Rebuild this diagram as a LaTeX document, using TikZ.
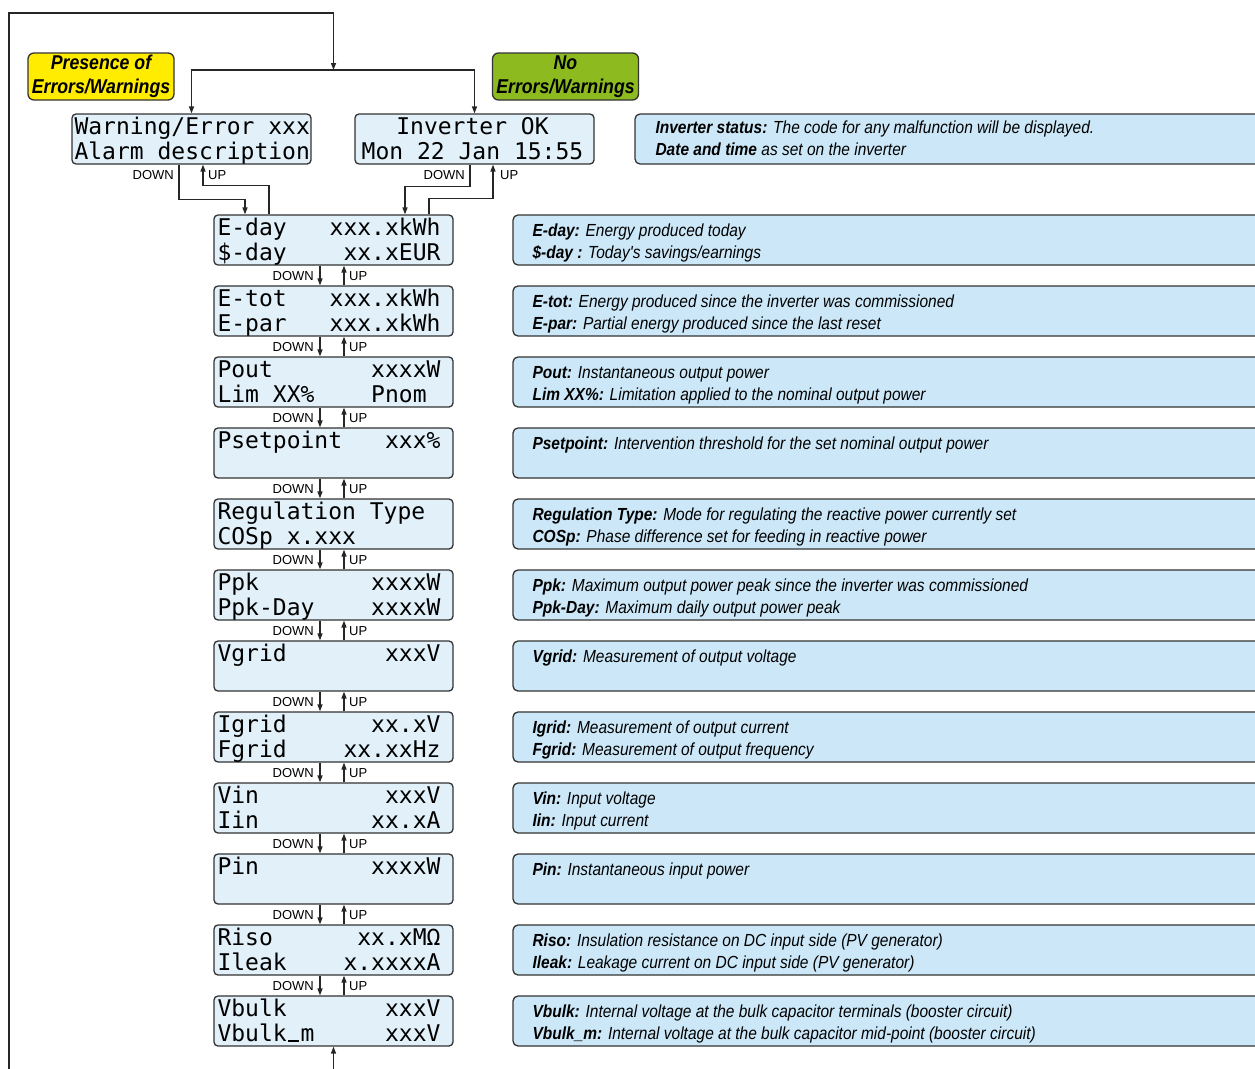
\documentclass[tikz,border=0pt]{standalone}
\usepackage{fontspec}
\setmainfont{Liberation Sans}
\newfontfamily\lcdfont{DejaVu Sans Mono}
\newfontfamily\descfont[FakeStretch=0.885]{Liberation Sans}
\usetikzlibrary{arrows.meta}
\definecolor{lcdfill}{HTML}{E1F0F9}
\definecolor{descfill}{HTML}{CCE8F8}
\definecolor{yel}{HTML}{FFEC00}
\definecolor{grn}{HTML}{8DBB1F}
\definecolor{edge}{HTML}{333333}
\tikzset{
  lcd/.style={draw=edge, line width=1.3pt, fill=lcdfill, rounded corners=4pt, minimum width=239pt, minimum height=50pt, inner sep=0pt},
  desc/.style={draw=edge, line width=1.3pt, fill=descfill, rounded corners=5pt, minimum height=50pt, inner sep=0pt},
  lcdtxt/.style={inner sep=0pt, font=\lcdfont\fontsize{23}{23}\selectfont},
  desctxt/.style={inner sep=0pt, anchor=base west, font=\descfont\fontsize{17.5}{17.5}\selectfont\itshape},
  tag/.style={draw=edge, line width=1.3pt, rounded corners=6pt, minimum width=146pt, minimum height=47pt, inner sep=0pt, align=center, font=\descfont\fontsize{20}{24}\selectfont\bfseries\itshape},
  conn/.style={line width=1.4pt, draw=black!85, -{Triangle[length=7pt,width=5pt]}},
  plain/.style={line width=1.4pt, draw=black!85},
  navtxt/.style={inner sep=0pt, font=\fontsize{13}{13}\selectfont}
}
\newcommand\LcdUnder{\makebox[13.85pt]{\rule{11pt}{2pt}}}
\newcommand\LcdRow[8]{%
  \node[lcd] (r#1) at (333.5,#2+25) {};
  \node[lcdtxt,anchor=base west] (r#1a) at ([xshift=4pt,yshift=-21.5pt]r#1.north west) {#3};
  \node[lcdtxt,anchor=base east] (r#1b) at ([xshift=-13pt,yshift=-21.5pt]r#1.north east) {#4};
  \node[lcdtxt,anchor=base west] (r#1c) at ([xshift=4pt,yshift=-46.5pt]r#1.north west) {#5};
  \node[lcdtxt,anchor=base east] (r#1d) at ([xshift=-13pt,yshift=-46.5pt]r#1.north east) {#6};
  \node[desc,minimum width=762pt] (d#1) at (894,#2+25) {};
  \node[desctxt] (d#1a) at ([xshift=20pt,yshift=-22pt]d#1.north west) {#7};
  \node[desctxt] (d#1b) at ([xshift=20pt,yshift=-44pt]d#1.north west) {#8};
}
\begin{document}
\begin{tikzpicture}[x=1pt,y=-1pt]
\useasboundingbox (0,0) rectangle (1255,1068);
\fill[white] (0,0) rectangle (1255,1068);
\clip (0,0) rectangle (1255,1068);

% tags
\node[tag,fill=yel] (tagE) at (101,76.5) {Presence of\\Errors/Warnings};
\node[tag,fill=grn] (tagN) at (565.5,76.5) {No\\Errors/Warnings};

% status boxes
\node[lcd] (warn) at (191.5,139) {};
\node[lcdtxt,anchor=base west] (warna) at ([xshift=3pt,yshift=-21.5pt]warn.north west) {Warning/Error xxx};
\node[lcdtxt,anchor=base west] (warnb) at ([xshift=3pt,yshift=-46.5pt]warn.north west) {Alarm description};
\node[lcd] (ok) at (474.5,139) {};
\node[lcdtxt,anchor=base] (oka) at ([xshift=-2pt,yshift=-21.5pt]ok.north) {Inverter OK};
\node[lcdtxt,anchor=base] (okb) at ([xshift=-2pt,yshift=-46.5pt]ok.north) {Mon 22 Jan 15:55};
\node[desc,minimum width=640pt] (d0) at (955,139) {};
\node[desctxt] (d0a) at ([xshift=21pt,yshift=-20pt]d0.north west) {\textbf{Inverter status:} The code for any malfunction will be displayed.};
\node[desctxt] (d0b) at ([xshift=21pt,yshift=-42pt]d0.north west) {\textbf{Date and time} as set on the inverter};

% rows
\LcdRow{1}{215}{E-day}{xxx.xkWh}{\$-day}{xx.xEUR}{\textbf{E-day:} Energy produced today}{\textbf{\$-day :} Today's savings/earnings}
\LcdRow{2}{286}{E-tot}{xxx.xkWh}{E-par}{xxx.xkWh}{\textbf{E-tot:} Energy produced since the inverter was commissioned}{\textbf{E-par:} Partial energy produced since the last reset}
\LcdRow{3}{357}{Pout}{xxxxW}{Lim XX\%}{Pnom\phantom{x}}{\textbf{Pout:} Instantaneous output power}{\textbf{Lim XX\%:} Limitation applied to the nominal output power}
\LcdRow{4}{428}{Psetpoint}{xxx\%}{}{}{\textbf{Psetpoint:} Intervention threshold for the set nominal output power}{}
\LcdRow{5}{499}{Regulation Type}{}{COSp x.xxx}{}{\textbf{Regulation Type:} Mode for regulating the reactive power currently set}{\textbf{COSp:} Phase difference set for feeding in reactive power}
\LcdRow{6}{570}{Ppk}{xxxxW}{Ppk-Day}{xxxxW}{\textbf{Ppk:} Maximum output power peak since the inverter was commissioned}{\textbf{Ppk-Day:} Maximum daily output power peak}
\LcdRow{7}{641}{Vgrid}{xxxV}{}{}{\textbf{Vgrid:} Measurement of output voltage}{}
\LcdRow{8}{712}{Igrid}{xx.xV}{Fgrid}{xx.xxHz\hspace{-11pt}}{\textbf{Igrid:} Measurement of output current}{\textbf{Fgrid:} Measurement of output frequency}
\LcdRow{9}{783}{Vin}{xxxV}{Iin}{xx.xA}{\textbf{Vin:} Input voltage}{\textbf{Iin:} Input current}
\LcdRow{10}{854}{Pin}{xxxxW}{}{}{\textbf{Pin:} Instantaneous input power}{}
\LcdRow{11}{925}{Riso}{xx.xMΩ\hspace{-7pt}}{Ileak}{x.xxxxA}{\textbf{Riso:} Insulation resistance on DC input side (PV generator)}{\textbf{Ileak:} Leakage current on DC input side (PV generator)}
\LcdRow{12}{996}{Vbulk}{xxxV}{Vbulk\LcdUnder m}{xxxV}{\textbf{Vbulk:} Internal voltage at the bulk capacitor terminals (booster circuit)}{\textbf{Vbulk\_m:} Internal voltage at the bulk capacitor mid-point (booster circuit)}

% connectors between rows
\foreach \i in {1,...,11}{
  \pgfmathtruncatemacro\j{\i+1}
  \draw[conn] ([xshift=-13.5pt]r\i.south) -- ([xshift=-13.5pt]r\j.north);
  \draw[conn] ([xshift=10.5pt]r\j.north) -- ([xshift=10.5pt]r\i.south);
  \node[navtxt,anchor=east] (dn\i) at ([xshift=-19.5pt,yshift=-10.5pt]r\i.south) {DOWN};
  \node[navtxt,anchor=west] (up\i) at ([xshift=15.5pt,yshift=-10.5pt]r\i.south) {UP};
}

% status -> first row
\draw[conn] ([xshift=-12.5pt]warn.south) -- ++(0,35) -| ([xshift=-88.5pt]r1.north);
\draw[conn] ([xshift=-64.5pt]r1.north) -- ++(0,-29) -| ([xshift=11.5pt]warn.south);
\draw[conn] ([xshift=-4.5pt]ok.south) -- ++(0,22) -| ([xshift=71.5pt]r1.north);
\draw[conn] ([xshift=95.5pt]r1.north) -- ++(0,-16) -| ([xshift=18.5pt]ok.south);
\node[navtxt,anchor=east] (wdn) at ([xshift=-17.5pt,yshift=-10pt]warn.south) {DOWN};
\node[navtxt,anchor=west] (wup) at ([xshift=16.5pt,yshift=-10pt]warn.south) {UP};
\node[navtxt,anchor=east] (odn) at ([xshift=-9.5pt,yshift=-10pt]ok.south) {DOWN};
\node[navtxt,anchor=west] (oup) at ([xshift=25.5pt,yshift=-10pt]ok.south) {UP};

% loop
\coordinate (loopstart) at (9,1080);
\coordinate (corner) at (9,13);
\coordinate (topturn) at (333.5,13);
\coordinate (split) at (333.5,70);
\coordinate (loopin) at (333.5,1080);
\draw[plain] (loopstart) -- (corner) -- (topturn);
\draw[conn] (topturn) -- (split);
\draw[conn] (split) -| (warn.north);
\draw[conn] (split) -| (ok.north);
\draw[conn] (loopin) -- (r12.south);
\end{tikzpicture}
\end{document}
